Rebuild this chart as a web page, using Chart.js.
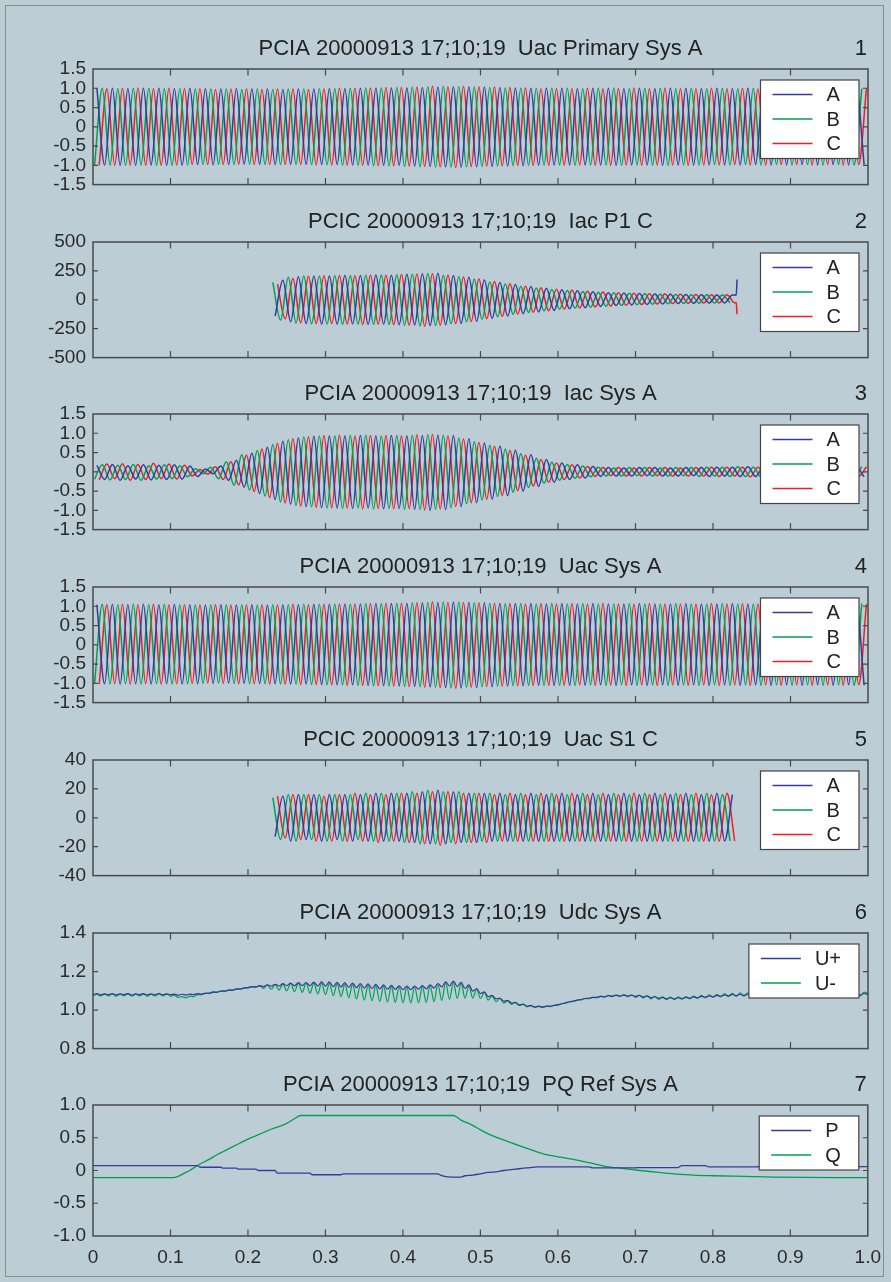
<!DOCTYPE html>
<html><head><meta charset="utf-8">
<script src="https://cdn.jsdelivr.net/npm/chart.js@4.4.1/dist/chart.umd.min.js"></script>
<style>
html,body{margin:0;padding:0;background:#bccdd6;}
#wrap{position:relative;width:891px;height:1282px;background:#bccdd6;overflow:hidden;}
#frame{position:absolute;left:5px;top:5px;width:877px;height:1270px;border:1.5px solid #8c8c8c;}
canvas{position:absolute;left:0;}
</style></head><body><div id="wrap"><div id="frame"></div></div>
<script>
// ---------------- DATA ----------------
const titles = ['PCIA 20000913 17;10;19  Uac Primary Sys A','PCIC 20000913 17;10;19  Iac P1 C','PCIA 20000913 17;10;19  Iac Sys A','PCIA 20000913 17;10;19  Uac Sys A','PCIC 20000913 17;10;19  Uac S1 C','PCIA 20000913 17;10;19  Udc Sys A','PCIA 20000913 17;10;19  PQ Ref Sys A'];
const panelNums = ['1','2','3','4','5','6','7'];
const xTickLabels = ['0','0.1','0.2','0.3','0.4','0.5','0.6','0.7','0.8','0.9','1.0'];
const yLab15 = ['-1.5','-1.0','-0.5','0','0.5','1.0','1.5'];
const yLab500 = ['-500','-250','0','250','500'];
const yLab40 = ['-40','-20','0','20','40'];
const yLabDC = ['0.8','1.0','1.2','1.4'];
const yLab10 = ['-1.0','-0.5','0','0.5','1.0'];
const phaseLabels = ['A','B','C'];
const dcLabels = ['U+','U-'];
const pqLabels = ['P','Q'];

// peak sample times (ms) of phases A, B, C
const tA = [5,15,25,35,45,55,65,75,85,95,105,115,125,135,145,155,165,175,185,195,205,215,225,235,245,255,265,275,285,295,305,315,325,335,345,355,365,375,385,395,405,415,425,435,445,455,465,475,485,495,505,515,525,535,545,555,565,575,585,595,605,615,625,635,645,655,665,675,685,695,705,715,725,735,745,755,765,775,785,795,805,815,825,835,845,855,865,875,885,895,905,915,925,935,945,955,965,975,985,995];
const tB = [2,12,22,32,42,52,62,72,82,92,102,112,122,132,142,152,162,172,182,192,202,212,222,232,242,252,262,272,282,292,302,312,322,332,342,352,362,372,382,392,402,412,422,432,442,452,462,472,482,492,502,512,522,532,542,552,562,572,582,592,602,612,622,632,642,652,662,672,682,692,702,712,722,732,742,752,762,772,782,792,802,812,822,832,842,852,862,872,882,892,902,912,922,932,942,952,962,972,982,992];
const tC = [8,18,28,38,48,58,68,78,88,98,108,118,128,138,148,158,168,178,188,198,208,218,228,238,248,258,268,278,288,298,308,318,328,338,348,358,368,378,388,398,408,418,428,438,448,458,468,478,488,498,508,518,528,538,548,558,568,578,588,598,608,618,628,638,648,658,668,678,688,698,708,718,728,738,748,758,768,778,788,798,808,818,828,838,848,858,868,878,888,898,908,918,928,938,948,958,968,978,988,998];

// Panel 1: Uac Primary Sys A
const p1A = [1.00,-0.99,1.00,-1.00,0.99,-1.00,1.00,-0.99,1.00,-1.00,
0.99,-1.00,1.00,-0.98,0.99,-0.99,0.98,-0.98,0.99,-0.97,
0.98,-0.97,0.98,-0.98,0.97,-0.98,0.98,-0.97,0.98,-0.98,
0.99,-0.98,0.99,-0.99,1.00,-0.99,1.00,-1.00,1.01,-1.00,
1.01,-1.02,1.02,-1.03,1.03,-1.04,1.04,-1.05,1.04,-1.04,
1.03,-1.03,1.02,-1.02,1.01,-1.01,1.00,-1.00,1.00,-0.99,
1.00,-0.99,0.99,-0.99,1.00,-0.99,1.00,-1.00,0.99,-0.99,
1.00,-0.99,0.99,-1.00,1.00,-0.99,1.00,-0.99,0.99,-0.99,
1.00,-0.99,0.99,-0.99,1.00,-0.98,0.99,-0.99,1.00,-0.99,
0.99,-0.98,1.00,-0.99,0.99,-0.98,1.00,-0.99,0.99,-0.98];
const p1B = [-0.99,1.00,-1.00,0.99,-1.00,1.00,-0.99,1.00,-1.00,0.99,
-1.00,0.99,-0.99,0.98,-0.98,0.98,-0.97,0.98,-0.98,0.97,
-0.97,0.98,-0.98,0.97,-0.98,0.98,-0.97,0.98,-0.98,0.99,
-0.99,0.99,-1.00,1.00,-1.00,1.01,-1.01,1.01,-1.02,1.02,
-1.03,1.03,-1.04,1.04,-1.05,1.05,-1.05,1.04,-1.04,1.03,
-1.03,1.02,-1.02,1.01,-1.01,1.00,-1.00,1.00,-0.99,1.00,
-0.99,1.00,-1.00,0.99,-0.99,1.00,-0.99,1.00,-1.00,0.99,
-0.99,1.00,-0.99,1.00,-1.00,0.99,-0.99,1.00,-0.99,0.99,
-0.98,1.00,-0.99,0.99,-0.98,1.00,-0.99,0.99,-0.98,1.00,
-0.99,0.99,-0.98,1.00,-0.99,0.99,-0.98,1.00,-0.99,0.99];
const p1C = [-1.00,0.99,-1.00,1.00,-0.99,1.00,-1.00,0.99,-1.00,1.00,
-0.99,0.99,-0.98,0.99,-0.98,0.97,-0.98,0.98,-0.97,0.98,
-0.98,0.97,-0.98,0.98,-0.97,0.98,-0.98,0.97,-0.99,0.98,
-0.99,1.00,-0.99,1.00,-1.00,1.00,-1.01,1.02,-1.01,1.02,
-1.02,1.03,-1.03,1.05,-1.04,1.04,-1.06,1.05,-1.03,1.04,
-1.02,1.03,-1.01,1.02,-1.00,1.01,-1.00,0.99,-1.00,0.99,
-1.00,0.99,-0.99,1.00,-1.00,0.99,-1.00,0.99,-0.99,1.00,
-1.00,0.99,-0.99,1.00,-0.99,0.99,-1.00,0.99,-0.99,1.00,
-0.99,0.99,-0.98,1.00,-0.99,0.98,-0.99,1.00,-0.98,0.99,
-0.98,1.00,-0.99,0.99,-0.98,0.99,-0.99,1.00,-0.98,0.99];

// Panel 2: Iac P1 C (samples 23..82 of the peak grid)
const p2A = [-140,170,-190,200,-205,205,-210,
205,-210,212,-208,210,-212,215,-210,212,-215,
220,-218,225,-222,230,-215,210,-205,195,-185,
172,-160,150,-140,132,-120,115,-105,100,-92,
88,-78,78,-68,70,-58,62,-50,58,-44,
54,-40,50,-36,47,-32,45,-30,43,-28,
42,-27,42];
const p2B = [150,-175,195,-200,205,-208,206,
-210,208,-212,210,-209,213,-211,214,-212,216,
-220,222,-226,228,-222,212,-208,200,-190,178,
-168,155,-146,136,-126,118,-110,102,-96,90,
-82,80,-72,72,-64,66,-55,60,-48,56,
-42,52,-38,49,-34,46,-31,44,-29,43,
-28,42,-27];
const p2C = [135,-165,185,-198,204,-206,208,
-206,211,-210,209,-213,212,-210,213,-214,218,
-219,224,-228,226,-220,214,-206,198,-188,180,
-165,158,-143,138,-124,118,-108,104,-94,92,
-80,82,-70,74,-62,68,-53,62,-47,57,
-41,53,-37,50,-33,47,-30,45,-28,44,
-27,43,-26];
// final switching spike at the end of the record (ms, value)
const p2SpikeT = [830,831];
const p2SpikeA = [40,175];
const p2SpikeC = [-24,-125];

// Panel 3: Iac Sys A
const p3A = [0.17,-0.20,0.19,-0.22,0.16,-0.19,0.18,-0.21,0.17,-0.20,
0.18,-0.19,0.15,-0.12,0.07,-0.05,0.15,-0.22,0.30,-0.40,
0.48,-0.56,0.64,-0.72,0.79,-0.84,0.88,-0.90,0.92,-0.93,
0.93,-0.94,0.93,-0.95,0.94,-0.94,0.93,-0.96,0.94,-0.95,
0.93,-0.97,0.94,-1.00,0.95,-0.98,0.94,-0.90,0.86,-0.80,
0.75,-0.71,0.67,-0.62,0.56,-0.50,0.44,-0.38,0.32,-0.27,
0.23,-0.20,0.18,-0.16,0.14,-0.12,0.11,-0.11,0.10,-0.11,
0.11,-0.10,0.11,-0.11,0.10,-0.11,0.11,-0.10,0.11,-0.12,
0.12,-0.11,0.12,-0.12,0.13,-0.12,0.12,-0.13,0.13,-0.12,
0.13,-0.12,0.12,-0.13,0.13,-0.12,0.13,-0.12,0.12,-0.13];
const p3B = [-0.19,0.18,-0.21,0.17,-0.20,0.19,-0.22,0.16,-0.19,0.18,
-0.18,0.16,-0.13,0.08,-0.05,0.12,-0.18,0.26,-0.35,0.44,
-0.47,0.55,-0.63,0.71,-0.78,0.83,-0.87,0.90,-0.91,0.93,
-0.94,0.93,-0.95,0.94,-0.94,0.95,-0.96,0.93,-0.95,0.94,
-0.97,0.94,-0.98,0.96,-0.97,0.95,-0.93,0.88,-0.83,0.78,
-0.73,0.69,-0.64,0.59,-0.53,0.47,-0.41,0.35,-0.30,0.25,
-0.22,0.19,-0.17,0.15,-0.13,0.12,-0.11,0.10,-0.11,0.11,
-0.10,0.11,-0.11,0.10,-0.11,0.11,-0.10,0.11,-0.12,0.12,
-0.11,0.12,-0.12,0.13,-0.12,0.12,-0.13,0.13,-0.12,0.13,
-0.12,0.12,-0.13,0.13,-0.12,0.13,-0.12,0.12,-0.13,0.13];
const p3C = [-0.21,0.20,-0.18,0.21,-0.22,0.19,-0.20,0.22,-0.18,0.20,
-0.19,0.17,-0.11,0.06,-0.06,0.13,-0.20,0.26,-0.34,0.43,
-0.51,0.59,-0.67,0.74,-0.81,0.86,-0.89,0.91,-0.92,0.94,
-0.93,0.95,-0.94,0.93,-0.96,0.94,-0.95,0.94,-0.96,0.93,
-0.95,0.96,-0.99,0.97,-0.96,0.93,-0.90,0.85,-0.80,0.76,
-0.71,0.66,-0.61,0.55,-0.49,0.43,-0.37,0.32,-0.27,0.23,
-0.20,0.18,-0.16,0.14,-0.12,0.11,-0.10,0.11,-0.11,0.10,
-0.11,0.11,-0.10,0.11,-0.11,0.10,-0.11,0.11,-0.11,0.12,
-0.12,0.12,-0.11,0.12,-0.13,0.12,-0.12,0.13,-0.12,0.13,
-0.13,0.12,-0.12,0.13,-0.13,0.12,-0.13,0.12,-0.12,0.13];

// Panel 4: Uac Sys A
const p4A = [1.04,-1.01,1.05,-1.02,1.04,-1.01,1.05,-1.02,1.04,-1.01,
1.05,-1.02,1.04,-1.01,1.03,-1.00,1.04,-0.99,1.03,-1.00,
1.04,-1.01,1.03,-1.01,1.04,-1.02,1.04,-1.02,1.05,-1.03,
1.05,-1.04,1.06,-1.04,1.06,-1.05,1.07,-1.06,1.07,-1.07,
1.08,-1.08,1.09,-1.09,1.10,-1.11,1.11,-1.12,1.10,-1.11,
1.09,-1.09,1.08,-1.07,1.07,-1.06,1.07,-1.05,1.06,-1.05,
1.07,-1.05,1.06,-1.05,1.07,-1.04,1.06,-1.05,1.06,-1.04,
1.07,-1.05,1.06,-1.04,1.06,-1.05,1.07,-1.04,1.06,-1.05,
1.06,-1.04,1.07,-1.05,1.06,-1.04,1.06,-1.05,1.07,-1.04,
1.06,-1.05,1.06,-1.04,1.07,-1.05,1.06,-1.04,1.06,-1.05];
const p4B = [-1.01,1.05,-1.02,1.04,-1.01,1.05,-1.02,1.04,-1.01,1.05,
-1.02,1.04,-1.01,1.03,-1.00,1.04,-0.99,1.03,-1.00,1.04,
-1.01,1.03,-1.01,1.04,-1.02,1.04,-1.02,1.05,-1.03,1.05,
-1.04,1.06,-1.04,1.06,-1.05,1.07,-1.06,1.07,-1.07,1.08,
-1.08,1.09,-1.09,1.10,-1.10,1.11,-1.12,1.11,-1.10,1.09,
-1.09,1.08,-1.07,1.07,-1.06,1.07,-1.05,1.06,-1.05,1.07,
-1.05,1.06,-1.05,1.07,-1.04,1.06,-1.05,1.06,-1.04,1.07,
-1.05,1.06,-1.04,1.06,-1.05,1.07,-1.04,1.06,-1.05,1.06,
-1.04,1.07,-1.05,1.06,-1.04,1.06,-1.05,1.07,-1.04,1.06,
-1.05,1.06,-1.04,1.07,-1.05,1.06,-1.04,1.06,-1.05,1.07];
const p4C = [-1.02,1.04,-1.01,1.05,-1.02,1.04,-1.01,1.05,-1.02,1.04,
-1.01,1.04,-1.00,1.03,-0.99,1.04,-1.00,1.03,-1.01,1.04,
-1.01,1.04,-1.02,1.03,-1.02,1.05,-1.03,1.04,-1.03,1.05,
-1.04,1.06,-1.05,1.06,-1.05,1.07,-1.06,1.08,-1.07,1.08,
-1.09,1.09,-1.10,1.12,-1.11,1.10,-1.13,1.10,-1.10,1.09,
-1.08,1.08,-1.07,1.07,-1.06,1.06,-1.05,1.07,-1.05,1.06,
-1.05,1.07,-1.04,1.06,-1.05,1.07,-1.04,1.06,-1.05,1.06,
-1.04,1.07,-1.05,1.06,-1.04,1.06,-1.05,1.06,-1.04,1.07,
-1.05,1.06,-1.04,1.07,-1.05,1.06,-1.04,1.06,-1.05,1.06,
-1.04,1.07,-1.05,1.06,-1.04,1.06,-1.05,1.07,-1.04,1.06];

// Panel 5: Uac S1 C (samples 23..82)
const p5A = [-13,15,-16,16,-15,16,-16,
16,-15,16,-16,16,-16,17,-16,17,-16,
17,-17,18,-18,19,-18,18,-17,17,-17,
17,-16,17,-16,16,-16,17,-16,16,-16,
17,-16,16,-16,17,-16,16,-16,17,-16,
16,-16,17,-16,16,-16,17,-16,16,-16,
17,-16,16];
const p5B = [14,-15,16,-16,16,-15,16,
-16,16,-16,16,-15,17,-16,17,-16,17,
-17,18,-18,19,-18,18,-17,18,-17,17,
-16,17,-16,16,-16,17,-16,16,-16,17,
-16,16,-16,17,-16,16,-16,17,-16,16,
-16,17,-16,16,-16,17,-16,16,-16,17,
-16,16,-16];
const p5C = [15,-14,16,-15,16,-16,15,
-16,16,-16,17,-16,16,-17,16,-16,17,
-17,17,-18,18,-19,18,-18,17,-17,17,
-17,16,-16,17,-16,16,-16,17,-16,16,
-16,17,-16,16,-16,17,-16,16,-16,17,
-16,16,-16,17,-16,16,-16,17,-16,16,
-16,17,-16];

// Panel 6: Udc Sys A  (sample times in ms)
const tDC = [0,5,10,15,20,25,30,35,40,45,50,55,60,65,70,75,80,85,90,95,
100,105,110,115,120,125,130,135,140,145,150,155,160,165,170,175,180,185,190,195,
200,205,210,215,220,225,230,235,240,245,250,255,260,265,270,275,280,285,290,295,
300,305,310,315,320,325,330,335,340,345,350,355,360,365,370,375,380,385,390,395,
400,405,410,415,420,425,430,435,440,445,450,455,460,465,470,475,480,485,490,495,
500,505,510,515,520,525,530,535,540,545,550,555,560,565,570,575,580,585,590,595,
600,605,610,615,620,625,630,635,640,645,650,655,660,665,670,675,680,685,690,695,
700,705,710,715,720,725,730,735,740,745,750,755,760,765,770,775,780,785,790,795,
800,805,810,815,820,825,830,835,840,845,850,855,860,865,870,875,880,885,890,895,
900,905,910,915,920,925,930,935,940,945,950,955,960,965,970,975,980,985,990,995,
1000];
const uPlus = [1.080,1.085,1.079,1.084,1.080,1.086,1.079,1.084,1.080,1.085,1.078,1.084,1.080,1.085,1.079,1.084,1.080,1.086,1.079,1.084,
1.080,1.083,1.077,1.082,1.078,1.083,1.080,1.085,1.083,1.088,
1.088,1.094,1.093,1.099,1.098,1.104,1.103,1.110,1.109,1.115,
1.116,1.122,1.120,1.127,1.122,1.131,1.124,1.134,1.125,1.137,
1.127,1.140,1.126,1.142,1.127,1.143,1.126,1.145,1.125,1.146,
1.124,1.146,1.122,1.144,1.120,1.142,1.118,1.140,1.116,1.138,
1.114,1.136,1.112,1.133,1.110,1.131,1.108,1.128,1.107,1.126,
1.106,1.125,1.106,1.125,1.108,1.127,1.110,1.131,1.114,1.138,
1.120,1.146,1.125,1.150,1.122,1.144,1.112,1.131,1.098,1.112,
1.085,1.094,1.070,1.076,1.058,1.062,1.046,1.050,1.036,1.040,
1.027,1.031,1.020,1.024,1.016,1.020,1.016,1.020,1.020,1.024,
1.028,1.033,1.038,1.043,1.047,1.052,1.055,1.060,1.061,1.066,
1.066,1.071,1.069,1.075,1.072,1.077,1.073,1.078,1.073,1.077,
1.071,1.076,1.068,1.073,1.064,1.069,1.061,1.066,1.059,1.064,
1.058,1.064,1.060,1.066,1.062,1.068,1.064,1.071,1.067,1.073,
1.069,1.076,1.072,1.079,1.074,1.081,1.075,1.082,1.076,1.083,
1.076,1.084,1.077,1.084,1.077,1.085,1.077,1.084,1.077,1.085,
1.077,1.085,1.078,1.085,1.077,1.086,1.077,1.085,1.078,1.085,
1.077,1.086,1.078,1.085,1.077,1.086,1.078,1.085,1.077,1.086,1.080];
const uMinus = [1.074,1.082,1.073,1.083,1.074,1.082,1.072,1.083,1.074,1.084,1.073,1.082,1.074,1.083,1.072,1.082,1.073,1.084,1.074,1.083,
1.072,1.078,1.066,1.070,1.064,1.072,1.070,1.080,1.080,1.086,
1.086,1.092,1.092,1.098,1.098,1.103,1.103,1.108,1.109,1.114,
1.115,1.120,1.118,1.126,1.112,1.130,1.108,1.132,1.104,1.135,
1.100,1.138,1.096,1.140,1.092,1.140,1.088,1.141,1.084,1.140,
1.080,1.139,1.075,1.137,1.070,1.135,1.064,1.133,1.058,1.131,
1.052,1.129,1.048,1.127,1.045,1.124,1.042,1.122,1.040,1.121,
1.038,1.120,1.037,1.121,1.038,1.123,1.040,1.127,1.044,1.134,
1.050,1.142,1.056,1.144,1.060,1.138,1.062,1.126,1.062,1.108,
1.060,1.092,1.052,1.074,1.044,1.060,1.036,1.048,1.030,1.038,
1.024,1.030,1.017,1.023,1.014,1.019,1.014,1.019,1.018,1.024,
1.026,1.033,1.036,1.043,1.045,1.052,1.053,1.060,1.059,1.066,
1.064,1.072,1.067,1.076,1.069,1.079,1.070,1.080,1.069,1.079,
1.066,1.077,1.063,1.075,1.058,1.071,1.056,1.068,1.054,1.067,
1.054,1.068,1.056,1.070,1.058,1.073,1.060,1.076,1.063,1.079,
1.066,1.082,1.068,1.085,1.070,1.087,1.071,1.089,1.072,1.090,
1.072,1.090,1.073,1.091,1.073,1.091,1.073,1.092,1.074,1.091,
1.073,1.092,1.074,1.091,1.073,1.092,1.074,1.091,1.073,1.092,
1.074,1.091,1.073,1.092,1.074,1.091,1.073,1.092,1.074,1.093,1.085];

// Panel 7: PQ Ref Sys A
const pT = [0,135,138,165,168,185,188,210,213,235,238,280,283,320,323,445,450,462,475,480,490,500,510,520,530,545,560,575,640,645,700,705,755,760,790,795,855,860,1000];
const pV = [0.075,0.075,0.05,0.05,0.035,0.035,0.02,0.02,0.0,0.0,-0.04,-0.04,-0.065,-0.065,-0.05,-0.05,-0.08,-0.1,-0.1,-0.08,-0.07,-0.05,-0.03,-0.02,0.0,0.02,0.04,0.055,0.055,0.04,0.04,0.045,0.045,0.075,0.075,0.055,0.055,0.06,0.06];
const qT = [0,103,110,118,125,130,140,150,160,170,180,190,200,210,220,230,240,250,260,268,465,475,490,500,510,520,534,550,565,577,590,605,620,640,663,685,706,730,750,775,800,840,880,1000];
const qV = [-0.11,-0.11,-0.09,-0.04,0.0,0.04,0.11,0.17,0.24,0.30,0.36,0.42,0.48,0.53,0.58,0.63,0.67,0.72,0.79,0.84,0.84,0.77,0.69,0.62,0.56,0.51,0.45,0.38,0.32,0.27,0.23,0.20,0.17,0.12,0.06,0.03,0.0,-0.03,-0.05,-0.07,-0.08,-0.09,-0.10,-0.11];

// ---------------- RENDERING ----------------
Chart.defaults.font.family = '"Liberation Sans", Arial, Helvetica, sans-serif';
Chart.defaults.color = '#2a2a2a';
const BLUE='#363a9a', GREEN='#00a04e', RED='#f01e24';
const pts = (ts, vs, off) => vs.map((v,i)=>({x: ts[i+(off||0)]/1000, y: v}));
const ds = (label,color,data,w)=>({label, data, borderColor:color, backgroundColor:color, borderWidth:w||1.5, fill:false, pointRadius:0});

const framePlugin = {
  id:'panelDeco',
  afterDatasetsDraw(chart, args, opts){
    const ctx=chart.ctx, a=chart.chartArea, x=chart.scales.x, y=chart.scales.y;
    ctx.save();
    ctx.strokeStyle='#4a4a4a'; ctx.lineWidth=1.5;
    ctx.strokeRect(a.left,a.top,a.right-a.left,a.bottom-a.top);
    ctx.lineWidth=1.2; ctx.beginPath();
    x.ticks.forEach(t=>{const px=x.getPixelForValue(t.value); if(px<=a.left+1||px>=a.right-1) return;
      ctx.moveTo(px,a.top); ctx.lineTo(px,a.top+6.5); ctx.moveTo(px,a.bottom); ctx.lineTo(px,a.bottom-6.5);});
    y.ticks.forEach(t=>{const py=y.getPixelForValue(t.value); if(py<=a.top+1||py>=a.bottom-1) return;
      ctx.moveTo(a.left,py); ctx.lineTo(a.left+5,py); ctx.moveTo(a.right,py); ctx.lineTo(a.right-5,py);});
    ctx.stroke();
    ctx.fillStyle='#222'; ctx.font='22px "Liberation Sans", Arial, sans-serif';
    ctx.textBaseline='alphabetic'; ctx.textAlign='center';
    ctx.fillText(opts.title,(a.left+a.right)/2,a.top-14);
    ctx.textAlign='right';
    ctx.fillText(opts.num,a.right-1,a.top-14);
    ctx.restore();
  }
};
const boxLegend = {
  id:'boxLegend',
  afterDatasetsDraw(chart){
    const ctx=chart.ctx, a=chart.chartArea;
    const items=chart.data.datasets;
    ctx.save();
    ctx.font='20px "Liberation Sans", Arial, sans-serif';
    let maxW=0; items.forEach(d=>{maxW=Math.max(maxW,ctx.measureText(d.label).width);});
    const w=Math.max(98.5,66+maxW+18), rowH=24.5, h=items.length*rowH+5;
    const right=a.right-9, left=right-w, top=a.top+11;
    ctx.fillStyle='#ffffff'; ctx.fillRect(left,top,w,h);
    ctx.strokeStyle='#444'; ctx.lineWidth=1.2; ctx.strokeRect(left,top,w,h);
    items.forEach((d,i)=>{
      const yy=top+14.5+i*rowH;
      ctx.strokeStyle=d.borderColor; ctx.lineWidth=1.4;
      ctx.beginPath(); ctx.moveTo(left+12,yy); ctx.lineTo(left+52,yy); ctx.stroke();
      ctx.fillStyle='#222'; ctx.textBaseline='middle'; ctx.textAlign='left';
      ctx.fillText(d.label,left+66,yy+1);
    });
    ctx.restore();
  }
};

const wrap=document.getElementById('wrap');
const panelTops=[69,242,414,587,760,933,1105];
const PH=131, HEAD=40;
function panel(i, datasets, yMin, yMax, yStep, yLabels){
  const last=(i===6);
  const H=HEAD+PH+(last?36:3);
  const cv=document.createElement('canvas');
  cv.width=891; cv.height=H;
  cv.style.top=(panelTops[i]-HEAD)+'px'; cv.style.width='891px'; cv.style.height=H+'px';
  wrap.appendChild(cv);
  new Chart(cv,{type:'line',data:{datasets},options:{
    responsive:false, animation:false, devicePixelRatio:1,
    layout:{padding:{top:HEAD,left:0,right:23,bottom:last?0:3}},
    elements:{point:{radius:0},line:{cubicInterpolationMode:'monotone'}},
    plugins:{legend:{display:false},tooltip:{enabled:false},title:{display:false},
      panelDeco:{title:titles[i],num:panelNums[i]}},
    scales:{
      x:{type:'linear',min:0,max:1,
        ticks:{display:last,stepSize:0.1,padding:10,font:{size:19},color:'#2a2a2a',maxRotation:0,autoSkip:false,
          callback:(v,idx)=>xTickLabels[idx]},
        grid:{display:false,drawTicks:false},border:{display:false},
        afterFit:s=>{s.height=last?36:0;}},
      y:{type:'linear',min:yMin,max:yMax,
        ticks:{stepSize:yStep,padding:7,font:{size:19},color:'#2a2a2a',autoSkip:false,callback:(v,idx)=>yLabels[idx]},
        grid:{display:false,drawTicks:false},border:{display:false},
        afterFit:s=>{s.width=93;}}
    }
  },plugins:[framePlugin,boxLegend]});
}

const spike = (vals)=>p2SpikeT.map((t,i)=>({x:t/1000,y:vals[i]}));
panel(0,[ds(phaseLabels[0],BLUE,pts(tA,p1A)),ds(phaseLabels[1],GREEN,pts(tB,p1B)),ds(phaseLabels[2],RED,pts(tC,p1C))],-1.5,1.5,0.5,yLab15);
panel(1,[ds(phaseLabels[0],BLUE,pts(tA,p2A,23).concat(spike(p2SpikeA))),ds(phaseLabels[1],GREEN,pts(tB,p2B,23)),ds(phaseLabels[2],RED,pts(tC,p2C,23).concat(spike(p2SpikeC)))],-500,500,250,yLab500);
panel(2,[ds(phaseLabels[0],BLUE,pts(tA,p3A)),ds(phaseLabels[1],GREEN,pts(tB,p3B)),ds(phaseLabels[2],RED,pts(tC,p3C))],-1.5,1.5,0.5,yLab15);
panel(3,[ds(phaseLabels[0],BLUE,pts(tA,p4A)),ds(phaseLabels[1],GREEN,pts(tB,p4B)),ds(phaseLabels[2],RED,pts(tC,p4C))],-1.5,1.5,0.5,yLab15);
panel(4,[ds(phaseLabels[0],BLUE,pts(tA,p5A,23)),ds(phaseLabels[1],GREEN,pts(tB,p5B,23)),ds(phaseLabels[2],RED,pts(tC,p5C,23))],-40,40,20,yLab40);
panel(5,[ds(dcLabels[0],BLUE,pts(tDC,uPlus),1.2),ds(dcLabels[1],GREEN,pts(tDC,uMinus),1.2)],0.8,1.4,0.2,yLabDC);
panel(6,[ds(pqLabels[0],BLUE,pts(pT,pV),1.3),ds(pqLabels[1],GREEN,pts(qT,qV),1.3)],-1,1,0.5,yLab10);
</script></body></html>
